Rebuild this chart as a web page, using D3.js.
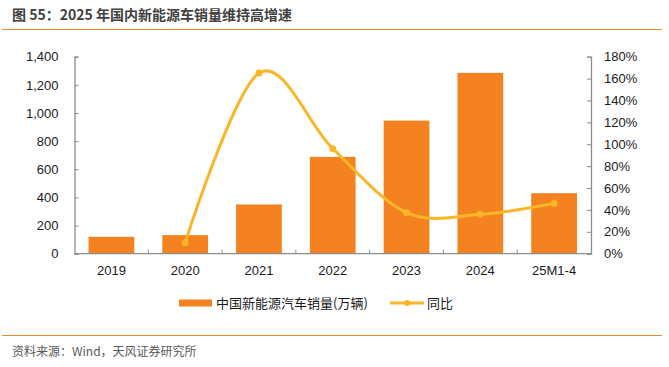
<!DOCTYPE html>
<meta charset="utf-8">
<style>
body { margin: 0; background: #fff; }
text { font-family: "Liberation Sans", Arial, "Noto Sans CJK SC", sans-serif; }
.cjk { font-family: "Noto Sans CJK SC", sans-serif; }
</style>
<svg width="669" height="367"></svg>
<script src="https://d3js.org/d3.v7.min.js"></script>
<script>

var categories = ["2019", "2020", "2021", "2022", "2023", "2024", "25M1-4"];
var sales = [120, 132, 350, 688, 946, 1285, 430];       // 万辆
var yoy = [null, 10, 165, 96, 37.5, 36, 46];              // %
var leftTicks = [0, 200, 400, 600, 800, 1000, 1200, 1400];
var rightTicks = [0, 20, 40, 60, 80, 100, 120, 140, 160, 180];

var svg = d3.select("svg"),
    plotL = 74.5, plotR = 591, plotT = 56.7, plotB = 253.7;

var barColor = "#f58220", lineColor = "#fbb627", axisColor = "#8c8c8c";

// title + rules
svg.append("text").attr("class", "cjk")
    .attr("x", 12).attr("y", 20)
    .attr("font-size", 14).attr("font-weight", "bold").attr("fill", "#404040")
    .text("图 55：2025 年国内新能源车销量维持高增速");
svg.append("line").attr("x1", 2).attr("x2", 662).attr("y1", 29.5).attr("y2", 29.5)
    .attr("stroke", "#e88a2e").attr("stroke-width", 1);
svg.append("line").attr("x1", 2).attr("x2", 662).attr("y1", 335.5).attr("y2", 335.5)
    .attr("stroke", "#e88a2e").attr("stroke-width", 1);
svg.append("text").attr("class", "cjk")
    .attr("x", 12).attr("y", 356)
    .attr("font-size", 12).attr("fill", "#595959")
    .text("资料来源：Wind，天风证券研究所");

var x = d3.scaleBand().domain(categories).range([plotL, plotR]).paddingInner(0.38).paddingOuter(0.19);
var xb = d3.scaleBand().domain(categories).range([plotL, plotR]);
var y = d3.scaleLinear().domain([0, 1400]).range([plotB, plotT]);
var y2 = d3.scaleLinear().domain([0, 180]).range([plotB, plotT]);

// bars
svg.append("g").selectAll("rect")
  .data(sales)
  .join("rect")
    .attr("x", function(d, i) { return x(categories[i]); })
    .attr("width", x.bandwidth())
    .attr("y", function(d) { return y(d); })
    .attr("height", function(d) { return plotB - y(d); })
    .attr("fill", barColor);

// axes
var gl = svg.append("g").attr("transform", "translate(" + plotL + ",0)")
    .call(d3.axisLeft(y).tickValues(leftTicks).tickSize(-4).tickPadding(16).tickFormat(d3.format(",")));
var gr = svg.append("g").attr("transform", "translate(" + plotR + ",0)")
    .call(d3.axisRight(y2).tickValues(rightTicks).tickSize(-4).tickPadding(13).tickFormat(function(d) { return d + "%"; }));
var gx = svg.append("g").attr("transform", "translate(0," + plotB + ")")
    .call(d3.axisBottom(xb).tickSize(0).tickPadding(12));
[gl, gr, gx].forEach(function(g) {
  g.select(".domain").attr("stroke", axisColor).attr("stroke-width", 1.3);
  g.selectAll(".tick line").attr("stroke", axisColor);
  g.selectAll(".tick text").attr("font-size", 13).attr("fill", "#1a1a1a")
    .attr("font-family", "'Liberation Sans', Arial, sans-serif");
});
gx.select(".domain").attr("d", "M" + plotL + ",0H" + plotR);
// category boundary ticks on x axis
gx.append("g").selectAll("line")
  .data(categories.slice(1))
  .join("line")
    .attr("x1", function(d) { return xb(d); })
    .attr("x2", function(d) { return xb(d); })
    .attr("y1", 0).attr("y2", -4)
    .attr("stroke", axisColor);

// yoy line (smoothed like the source chart)
var pts = yoy.map(function(v, i) { return { c: categories[i], v: v }; })
  .filter(function(d) { return d.v !== null; });
var line = d3.line()
    .x(function(d) { return xb(d.c) + xb.bandwidth() / 2; })
    .y(function(d) { return y2(d.v); })
    .curve(d3.curveCatmullRom.alpha(0));
svg.append("path").datum(pts)
    .attr("d", line).attr("fill", "none")
    .attr("stroke", lineColor).attr("stroke-width", 3);
svg.append("g").selectAll("circle")
  .data(pts)
  .join("circle")
    .attr("cx", function(d) { return xb(d.c) + xb.bandwidth() / 2; })
    .attr("cy", function(d) { return y2(d.v); })
    .attr("r", 3.5).attr("fill", lineColor);

// legend
var lg = svg.append("g").attr("transform", "translate(0,303)");
lg.append("rect").attr("x", 179).attr("y", -3.5).attr("width", 33).attr("height", 7).attr("fill", barColor);
lg.append("text").attr("class", "cjk").attr("x", 216).attr("y", 5)
    .attr("font-size", 13).attr("fill", "#1a1a1a").text("中国新能源汽车销量(万辆)");
lg.append("line").attr("x1", 390).attr("x2", 424).attr("y1", 0).attr("y2", 0)
    .attr("stroke", lineColor).attr("stroke-width", 3);
lg.append("circle").attr("cx", 407).attr("cy", 0).attr("r", 3).attr("fill", lineColor);
lg.append("text").attr("class", "cjk").attr("x", 427).attr("y", 5)
    .attr("font-size", 13).attr("fill", "#1a1a1a").text("同比");

</script>
